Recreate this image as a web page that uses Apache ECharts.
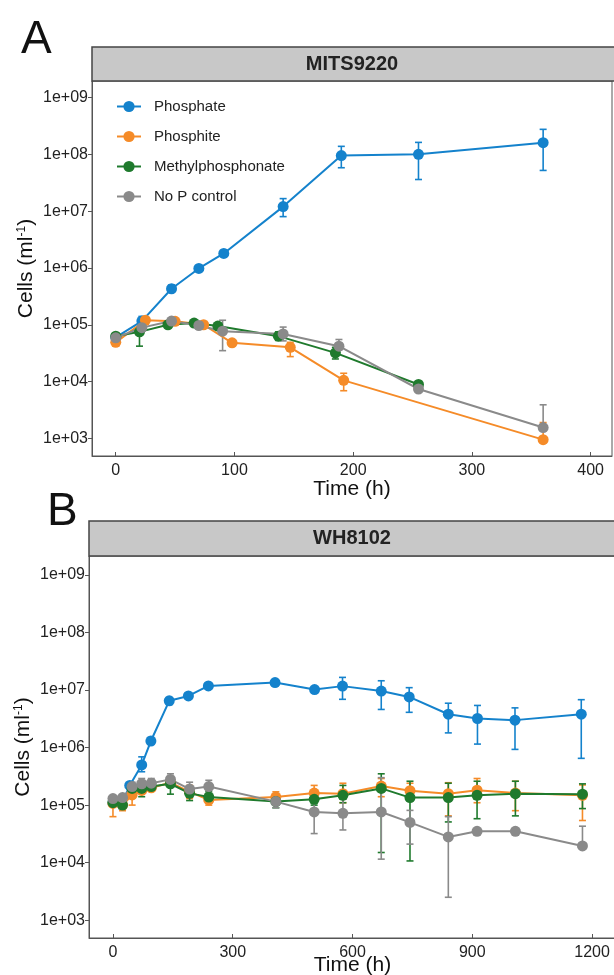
<!DOCTYPE html>
<html><head><meta charset="utf-8">
<script src="https://cdn.jsdelivr.net/npm/echarts@6/dist/echarts.min.js"></script>
<style>html,body{margin:0;padding:0;background:#fff}#c{width:614px;height:975px}</style>
</head><body><div id="c"></div>
<script>
// ---------- shared ----------
const seriesNames = ['Phosphate', 'Phosphite', 'Methylphosphonate', 'No P control'];
const seriesColors = ['#1482cc', '#f58b28', '#1f7a2d', '#8a8a8a'];
const yTickValues = [1e3, 1e4, 1e5, 1e6, 1e7, 1e8, 1e9];
const xTicksA = [0, 100, 200, 300, 400];
const xTicksB = [0, 300, 600, 900, 1200];
const panelTitles = ['MITS9220', 'WH8102'];

// ---------- Panel A : MITS9220 ----------
const tA_phosphate = [0, 22, 47, 70, 91, 141, 190, 255, 360];
const vA_phosphate = [6.0e4, 1.16e5, 4.3e5, 9.8e5, 1.8e6, 1.2e7, 9.5e7, 1.0e8, 1.6e8];
const loA_phosphate = [null, null, 3.8e5, null, null, 8.0e6, 5.8e7, 3.6e7, 5.2e7];
const hiA_phosphate = [null, 1.4e5, 5.0e5, null, null, 1.66e7, 1.38e8, 1.62e8, 2.75e8];

const tA_phosphite = [0, 25, 50, 74, 98, 147, 192, 360];
const vA_phosphite = [4.9e4, 1.2e5, 1.15e5, 1.0e5, 4.8e4, 4.0e4, 1.05e4, 9.5e2];
const loA_phosphite = [4.3e4, null, null, null, null, 2.75e4, 6.9e3, null];
const hiA_phosphite = [null, null, null, null, null, 4.9e4, 1.4e4, 1.9e3];

const tA_methyl = [0, 20, 44, 66, 86, 137, 185, 255];
const vA_methyl = [6.3e4, 7.5e4, 1.0e5, 1.07e5, 9.5e4, 6.3e4, 3.2e4, 8.9e3];
const loA_methyl = [null, 4.2e4, null, null, null, 5.3e4, 2.5e4, 7.8e3];
const hiA_methyl = [null, 9.1e4, null, null, null, 7.5e4, 4.0e4, 1.0e4];

const tA_noP = [0, 22, 47, 70, 90, 141, 188, 255, 360];
const vA_noP = [5.9e4, 8.9e4, 1.16e5, 9.7e4, 7.7e4, 6.9e4, 4.2e4, 7.4e3, 1.55e3];
const loA_noP = [null, null, null, 8.6e4, 3.5e4, 5.2e4, 3.6e4, 6.5e3, null];
const hiA_noP = [null, null, null, null, 1.2e5, 9.1e4, 5.5e4, null, 3.9e3];

// ---------- Panel B : WH8102 ----------
const tB_phosphate = [0, 22, 42, 72, 95, 141, 189, 239, 406, 505, 575, 672, 742, 840, 913, 1007, 1173];
const vB_phosphate = [1.1e5, 1.05e5, 2.2e5, 5.0e5, 1.3e6, 6.5e6, 7.9e6, 1.18e7, 1.35e7, 1.02e7, 1.17e7, 9.6e6, 7.6e6, 3.8e6, 3.2e6, 3.0e6, 3.8e6];
const loB_phosphate = [null, 8.7e4, 1.9e5, 3.8e5, 1.15e6, 5.6e6, null, null, null, null, 6.9e6, 4.6e6, 4.1e6, 1.8e6, 1.15e6, 9.3e5, 6.5e5];
const hiB_phosphate = [null, null, null, 6.9e5, 1.5e6, 7.4e6, null, null, null, null, 1.66e7, 1.45e7, 1.1e7, 5.9e6, 5.4e6, 4.9e6, 6.8e6];

const tB_phosphite = [0, 24, 48, 72, 96, 144, 192, 240, 408, 504, 576, 672, 744, 840, 912, 1008, 1176];
const vB_phosphite = [1.07e5, 1.0e5, 1.5e5, 1.8e5, 2.0e5, 2.45e5, 1.7e5, 1.23e5, 1.38e5, 1.62e5, 1.58e5, 2.14e5, 1.78e5, 1.58e5, 1.82e5, 1.62e5, 1.48e5];
const loB_phosphite = [6.3e4, 8.0e4, 1.0e5, null, null, null, 1.3e5, 1.0e5, 1.05e5, 1.2e5, 1.1e5, 1.4e5, 1.3e5, 6.5e4, 1.1e5, 8.0e4, 5.4e4];
const hiB_phosphite = [null, null, null, null, null, null, 2.2e5, 1.5e5, 1.7e5, 2.2e5, 2.4e5, 2.9e5, 2.4e5, 2.45e5, 2.9e5, 2.6e5, 2.24e5];

const tB_methyl = [0, 24, 48, 72, 96, 144, 192, 240, 408, 504, 576, 672, 744, 840, 912, 1008, 1176];
const vB_methyl = [1.1e5, 1.0e5, 1.95e5, 1.95e5, 2.1e5, 2.35e5, 1.6e5, 1.38e5, 1.15e5, 1.26e5, 1.48e5, 1.95e5, 1.35e5, 1.35e5, 1.48e5, 1.58e5, 1.55e5];
const loB_methyl = [null, null, 1.5e5, 1.4e5, null, 1.55e5, 1.2e5, 1.1e5, 9.0e4, 1.0e5, 1.1e5, 1.5e4, 1.07e4, 5.1e4, 5.8e4, 6.5e4, 8.7e4];
const hiB_methyl = [null, null, null, 2.5e5, null, 3.0e5, 2.1e5, 1.7e5, 1.4e5, 1.6e5, 2.2e5, 3.5e5, 2.6e5, 2.4e5, 2.6e5, 2.6e5, 2.34e5];

const tB_noP = [0, 24, 48, 72, 96, 144, 192, 240, 408, 504, 576, 672, 744, 840, 912, 1008, 1176];
const vB_noP = [1.3e5, 1.35e5, 2.1e5, 2.35e5, 2.4e5, 2.8e5, 1.9e5, 2.1e5, 1.15e5, 7.6e4, 7.2e4, 7.6e4, 5.0e4, 2.8e4, 3.5e4, 3.5e4, 1.95e4];
const loB_noP = [null, null, null, null, null, 2.2e5, 1.4e5, 1.6e5, 9.0e4, 3.2e4, 3.7e4, 1.15e4, 2.1e4, 2.5e3, null, null, null];
const hiB_noP = [null, null, 2.5e5, 2.9e5, 2.9e5, 3.5e5, 2.5e5, 2.7e5, 1.4e5, 1.5e5, 1.3e5, 3.0e5, 8.1e4, 6.3e4, null, null, 4.3e4];

// ---------- build ----------
const FONT = '"Liberation Sans", Arial, sans-serif';
const L = Math.log10;
const panelA = [
  [tA_phosphate, vA_phosphate, loA_phosphate, hiA_phosphate],
  [tA_phosphite, vA_phosphite, loA_phosphite, hiA_phosphite],
  [tA_methyl, vA_methyl, loA_methyl, hiA_methyl],
  [tA_noP, vA_noP, loA_noP, hiA_noP]
];
const panelB = [
  [tB_phosphate, vB_phosphate, loB_phosphate, hiB_phosphate],
  [tB_phosphite, vB_phosphite, loB_phosphite, hiB_phosphite],
  [tB_methyl, vB_methyl, loB_methyl, hiB_methyl],
  [tB_noP, vB_noP, loB_noP, hiB_noP]
];

function lineSeries(k, d, ax) {
  const c = seriesColors[k];
  return {
    type: 'line', name: seriesNames[k], xAxisIndex: ax, yAxisIndex: ax,
    data: d[0].map((x, i) => [x, L(d[1][i])]),
    symbol: 'circle', symbolSize: 11, showSymbol: true,
    lineStyle: { width: 2, color: c }, itemStyle: { color: c },
    emphasis: { disabled: true }, z: 3, animation: false
  };
}
function errSeries(k, d, ax) {
  const c = seriesColors[k];
  const data = [];
  d[0].forEach((x, i) => {
    const lo = d[2][i], hi = d[3][i];
    if (lo == null && hi == null) return;
    data.push([x, L(lo != null ? lo : d[1][i]), L(hi != null ? hi : d[1][i]), lo != null ? 1 : 0, hi != null ? 1 : 0]);
  });
  return {
    type: 'custom', name: seriesNames[k] + ' err' + ax, xAxisIndex: ax, yAxisIndex: ax,
    data, encode: { x: 0, y: [1, 2] }, z: 2, silent: true, animation: false,
    renderItem(params, api) {
      const x = api.value(0);
      const a = api.coord([x, api.value(1)]), b = api.coord([x, api.value(2)]);
      const w = 3.5, st = { stroke: c, lineWidth: 1.6 };
      const ch = [{ type: 'line', shape: { x1: a[0], y1: a[1], x2: b[0], y2: b[1] }, style: st }];
      if (api.value(3)) ch.push({ type: 'line', shape: { x1: a[0] - w, y1: a[1], x2: a[0] + w, y2: a[1] }, style: st });
      if (api.value(4)) ch.push({ type: 'line', shape: { x1: b[0] - w, y1: b[1], x2: b[0] + w, y2: b[1] }, style: st });
      return { type: 'group', children: ch };
    }
  };
}

const series = [];
[panelA, panelB].forEach((p, ax) => {
  p.forEach((d, k) => series.push(errSeries(k, d, ax)));
  p.forEach((d, k) => series.push(lineSeries(k, d, ax)));
});

function xAxis(ax, min, max, ticks, gap) {
  return {
    type: 'value', gridIndex: ax, min, max, position: 'bottom',
    name: 'Time (h)', nameLocation: 'middle', nameGap: gap, nameMoveOverlap: false,
    nameTextStyle: { fontSize: 21, color: '#111', fontFamily: FONT },
    axisLine: { show: true, onZero: false, lineStyle: { color: '#555', width: 1 } },
    axisTick: { show: true, inside: true, length: 4, customValues: ticks, lineStyle: { color: '#555' } },
    axisLabel: { customValues: ticks, fontSize: 16, color: '#222', margin: 7, fontFamily: FONT,
      formatter: v => String(v) },
    splitLine: { show: false }
  };
}
function yAxis(ax, min, max) {
  const tv = yTickValues.map(L);
  return {
    type: 'value', gridIndex: ax, min, max, position: 'left',
    name: 'Cells (ml{sup|-1})', nameLocation: 'middle', nameGap: 55, nameMoveOverlap: false,
    nameTextStyle: { fontSize: 21, color: '#111', fontFamily: FONT,
      rich: { sup: { fontSize: 12, verticalAlign: 'top', padding: [0, 0, 8, 0], color: '#111', fontFamily: FONT } } },
    axisLine: { show: true, onZero: false, lineStyle: { color: '#555', width: 1 } },
    axisTick: { show: true, inside: false, length: 4, customValues: tv, lineStyle: { color: '#555' } },
    axisLabel: { customValues: tv, fontSize: 16, color: '#222', margin: 4, fontFamily: FONT,
      formatter: v => '1e+' + String(Math.round(v)).padStart(2, '0') },
    splitLine: { show: false }
  };
}

const option = {
  backgroundColor: '#fff',
  animation: false,
  grid: [
    { left: 92, top: 81, width: 520, height: 375, show: true, borderColor: '#555', borderWidth: 1, backgroundColor: '#fff', containLabel: false, outerBoundsMode: 'none' },
    { left: 89, top: 556, width: 527, height: 382, show: true, borderColor: '#555', borderWidth: 1, backgroundColor: '#fff', containLabel: false, outerBoundsMode: 'none' }
  ],
  xAxis: [xAxis(0, -20, 418, xTicksA, 23), xAxis(1, -60, 1260, xTicksB, 17)],
  yAxis: [yAxis(0, 2.69, 9.29), yAxis(1, 2.69, 9.33)],
  legend: {
    data: seriesNames, orient: 'vertical', left: 111, top: 94,
    itemWidth: 24, itemHeight: 14, itemGap: 15,
    textStyle: { fontSize: 15, color: '#222', fontFamily: FONT, padding: [0, 0, 0, 8] },
    selectedMode: false
  },
  graphic: [
    { type: 'rect', shape: { x: 92, y: 47, width: 530, height: 34 }, style: { fill: '#c8c8c8', stroke: '#444', lineWidth: 1.5 }, z: 10 },
    { type: 'text', x: 352, y: 64, style: { text: panelTitles[0], fontSize: 20, fontWeight: 'bold', fill: '#222', align: 'center', verticalAlign: 'middle', fontFamily: FONT }, z: 11 },
    { type: 'rect', shape: { x: 89, y: 521, width: 530, height: 35 }, style: { fill: '#c8c8c8', stroke: '#444', lineWidth: 1.5 }, z: 10 },
    { type: 'text', x: 352, y: 538.5, style: { text: panelTitles[1], fontSize: 20, fontWeight: 'bold', fill: '#222', align: 'center', verticalAlign: 'middle', fontFamily: FONT }, z: 11 },
    { type: 'text', x: 21, y: 40, style: { text: 'A', fontSize: 46, fill: '#111', align: 'left', verticalAlign: 'middle', fontFamily: FONT }, z: 11 },
    { type: 'text', x: 47, y: 512, style: { text: 'B', fontSize: 46, fill: '#111', align: 'left', verticalAlign: 'middle', fontFamily: FONT }, z: 11 }
  ],
  series
};
const chart = echarts.init(document.getElementById('c'));
chart.setOption(option);
</script>
</body></html>
